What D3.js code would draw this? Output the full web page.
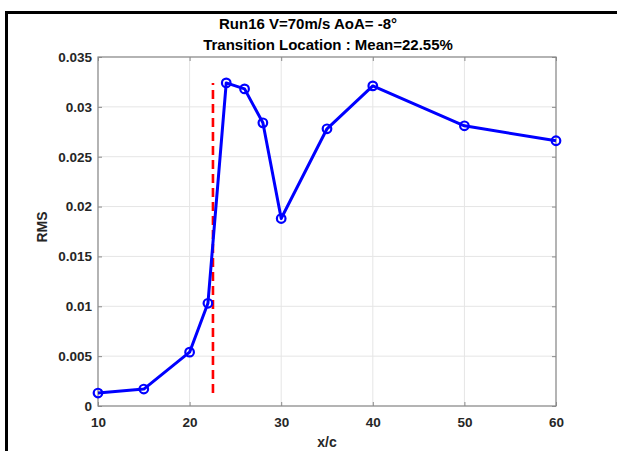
<!DOCTYPE html>
<html>
<head>
<meta charset="utf-8">
<script src="https://cdn.jsdelivr.net/npm/d3@7"></script>
<style>
  body { margin: 0; background: #fff; }
  svg { display: block; font-family: "Liberation Sans", Arial, sans-serif; }
  .tick text { font-weight: bold; fill: #262626; }
  .grid line { stroke: #e5e5e5; stroke-width: 1; }
</style>
</head>
<body>
<div id="viz"></div>
<script>
const xPos = [10, 15, 20, 22, 24, 26, 28, 30, 35, 40, 50, 60];
const rms = [0.0013, 0.0017, 0.0054, 0.0103, 0.0324, 0.0318, 0.0284, 0.0188, 0.0278, 0.0321, 0.0281, 0.0266];
const meanTransition = 22.55;
const xTicks = [10, 20, 30, 40, 50, 60];
const yTicks = [0, 0.005, 0.01, 0.015, 0.02, 0.025, 0.03, 0.035];
const titleLines = ["Run16 V=70m/s AoA= -8°", "Transition Location : Mean=22.55%"];

const width = 617, height = 451;
const margin = { top: 57, right: 61, bottom: 45, left: 98 };
const plotW = width - margin.left - margin.right;
const plotH = height - margin.top - margin.bottom;

const svg = d3.select("#viz")
    .append("svg")
    .attr("width", width)
    .attr("height", height);

// outer frame (left and top edges of the figure)
svg.append("line").attr("x1", 6.5).attr("x2", 6.5).attr("y1", 11).attr("y2", height)
    .attr("stroke", "#000").attr("stroke-width", 3);
svg.append("line").attr("x1", 5).attr("x2", width).attr("y1", 12.5).attr("y2", 12.5)
    .attr("stroke", "#000").attr("stroke-width", 3);

const g = svg.append("g")
    .attr("transform", "translate(" + margin.left + "," + margin.top + ")");

const x = d3.scaleLinear().domain([10, 60]).range([0, plotW]);
const y = d3.scaleLinear().domain([0, 0.035]).range([plotH, 0]);

// grid
g.append("g").attr("class", "grid")
    .selectAll("line.vx").data(xTicks).enter().append("line")
    .attr("x1", d => x(d)).attr("x2", d => x(d)).attr("y1", 0).attr("y2", plotH);
g.append("g").attr("class", "grid")
    .selectAll("line.hy").data(yTicks).enter().append("line")
    .attr("x1", 0).attr("x2", plotW).attr("y1", d => y(d)).attr("y2", d => y(d));

// axes with inward ticks
g.append("g")
    .attr("transform", "translate(0," + plotH + ")")
    .call(d3.axisBottom(x).tickValues(xTicks).tickSizeInner(-4).tickSizeOuter(0).tickPadding(11));
g.append("g")
    .call(d3.axisLeft(y).tickValues(yTicks).tickSizeInner(-4).tickSizeOuter(0).tickPadding(6)
        .tickFormat(d => d === 0 ? "0" : String(+d.toFixed(3))));
g.append("g")
    .call(d3.axisTop(x).tickValues(xTicks).tickSizeInner(-4).tickSizeOuter(0).tickFormat(""));
g.append("g")
    .attr("transform", "translate(" + plotW + ",0)")
    .call(d3.axisRight(y).tickValues(yTicks).tickSizeInner(-4).tickSizeOuter(0).tickFormat(""));

g.selectAll(".domain").remove();
g.selectAll(".tick line").attr("stroke", "#8a8a8a");
g.selectAll(".tick text").style("font-size", "13.5px");

// box
g.append("rect")
    .attr("x", 0).attr("y", 0).attr("width", plotW).attr("height", plotH)
    .attr("fill", "none").attr("stroke", "#8a8a8a").attr("stroke-width", 1.2);

// transition location (dashed red line spanning the data range)
const ext = d3.extent(rms);
g.append("line")
    .attr("x1", x(meanTransition)).attr("x2", x(meanTransition))
    .attr("y1", y(ext[0])).attr("y2", y(ext[1]))
    .attr("stroke", "#ff0000").attr("stroke-width", 2.6)
    .attr("stroke-dasharray", "9,5");

// data line
const pts = xPos.map((d, i) => ({ x: d, y: rms[i] }));
g.append("path")
    .datum(pts)
    .attr("fill", "none")
    .attr("stroke", "#0000ff")
    .attr("stroke-width", 3)
    .attr("stroke-linejoin", "round")
    .attr("d", d3.line().x(d => x(d.x)).y(d => y(d.y)));

g.selectAll(".marker")
    .data(pts)
    .enter()
    .append("circle")
    .attr("class", "marker")
    .attr("cx", d => x(d.x))
    .attr("cy", d => y(d.y))
    .attr("r", 4.3)
    .attr("fill", "none")
    .attr("stroke", "#0000ff")
    .attr("stroke-width", 2.2);

// titles
svg.append("text")
    .attr("x", 308).attr("y", 29)
    .attr("text-anchor", "middle")
    .style("font-size", "15px").style("font-weight", "bold").style("fill", "#000")
    .text(titleLines[0]);
svg.append("text")
    .attr("x", 328).attr("y", 50)
    .attr("text-anchor", "middle")
    .style("font-size", "15px").style("font-weight", "bold").style("fill", "#000")
    .text(titleLines[1]);

// axis labels
svg.append("text")
    .attr("x", margin.left + plotW / 2).attr("y", 447)
    .attr("text-anchor", "middle")
    .style("font-size", "14px").style("font-weight", "bold").style("fill", "#262626")
    .text("x/c");
svg.append("text")
    .attr("transform", "translate(47,227) rotate(-90)")
    .attr("text-anchor", "middle")
    .style("font-size", "14px").style("font-weight", "bold").style("fill", "#262626")
    .text("RMS");
</script>
</body>
</html>
